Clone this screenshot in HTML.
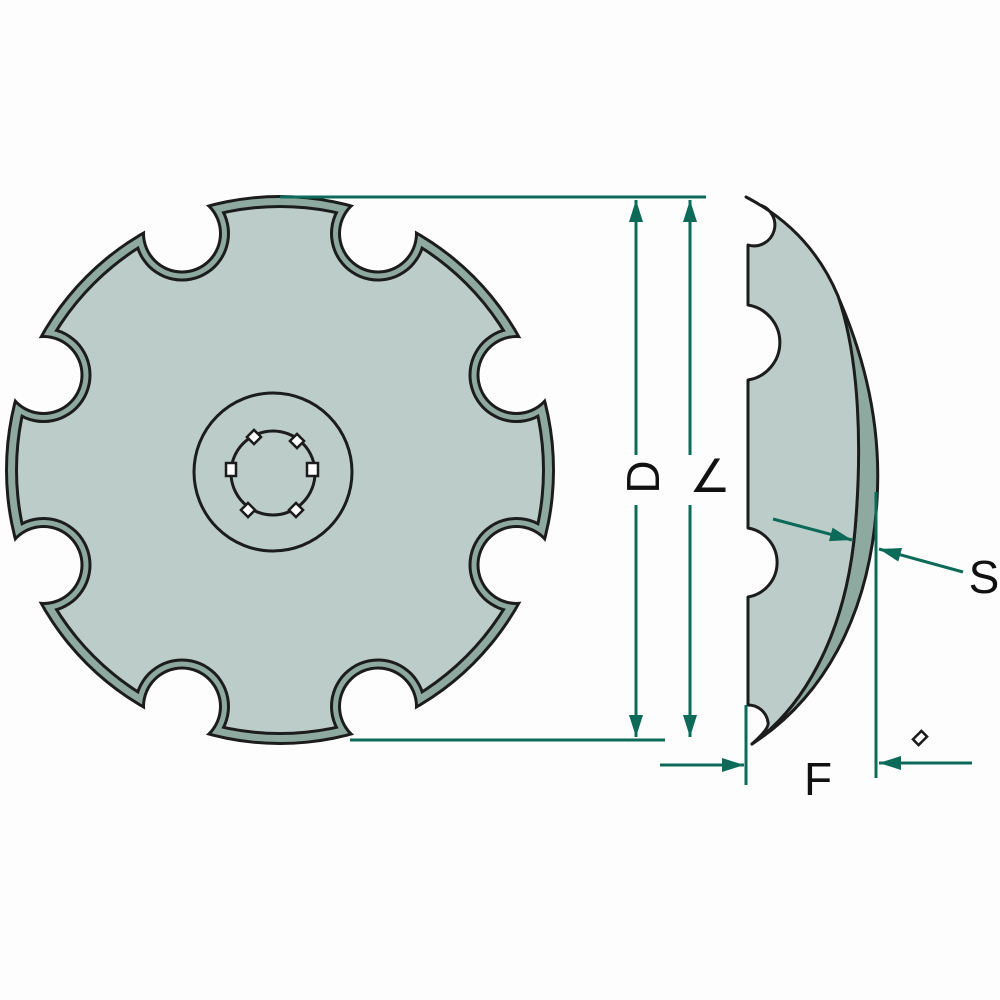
<!DOCTYPE html>
<html><head><meta charset="utf-8"><style>html,body{margin:0;padding:0;background:#fdfdfd}svg{display:block}</style></head>
<body>
<svg width="1000" height="1000" viewBox="0 0 1000 1000" xmlns="http://www.w3.org/2000/svg">
<defs>
<mask id="m1" maskUnits="userSpaceOnUse" x="0" y="0" width="1000" height="1000">
<rect width="1000" height="1000" fill="black"/>
<circle cx="280" cy="470" r="275" fill="white"/>
<g fill="black">
<circle cx="516.5" cy="375" r="37"/><circle cx="516.5" cy="565" r="37"/>
<circle cx="43.5" cy="375" r="37"/><circle cx="43.5" cy="565" r="37"/>
<circle cx="378" cy="233.5" r="37"/><circle cx="182" cy="233.5" r="37"/>
<circle cx="378" cy="706.5" r="37"/><circle cx="182" cy="706.5" r="37"/>
</g></mask>
<mask id="m2" maskUnits="userSpaceOnUse" x="0" y="0" width="1000" height="1000">
<rect width="1000" height="1000" fill="black"/>
<circle cx="280" cy="470" r="272" fill="white"/>
<g fill="black">
<circle cx="516.5" cy="375" r="40"/><circle cx="516.5" cy="565" r="40"/>
<circle cx="43.5" cy="375" r="40"/><circle cx="43.5" cy="565" r="40"/>
<circle cx="378" cy="233.5" r="40"/><circle cx="182" cy="233.5" r="40"/>
<circle cx="378" cy="706.5" r="40"/><circle cx="182" cy="706.5" r="40"/>
</g></mask>
<mask id="m3" maskUnits="userSpaceOnUse" x="0" y="0" width="1000" height="1000">
<rect width="1000" height="1000" fill="black"/>
<circle cx="280" cy="470" r="265" fill="white"/>
<g fill="black">
<circle cx="516.5" cy="375" r="45"/><circle cx="516.5" cy="565" r="45"/>
<circle cx="43.5" cy="375" r="45"/><circle cx="43.5" cy="565" r="45"/>
<circle cx="378" cy="233.5" r="45"/><circle cx="182" cy="233.5" r="45"/>
<circle cx="378" cy="706.5" r="45"/><circle cx="182" cy="706.5" r="45"/>
</g></mask>
<mask id="m4" maskUnits="userSpaceOnUse" x="0" y="0" width="1000" height="1000">
<rect width="1000" height="1000" fill="black"/>
<circle cx="280" cy="470" r="262" fill="white"/>
<g fill="black">
<circle cx="516.5" cy="375" r="48"/><circle cx="516.5" cy="565" r="48"/>
<circle cx="43.5" cy="375" r="48"/><circle cx="43.5" cy="565" r="48"/>
<circle cx="378" cy="233.5" r="48"/><circle cx="182" cy="233.5" r="48"/>
<circle cx="378" cy="706.5" r="48"/><circle cx="182" cy="706.5" r="48"/>
</g></mask>
<marker id="b" viewBox="0 0 10 10" refX="10" refY="5" markerWidth="22" markerHeight="14" markerUnits="userSpaceOnUse" orient="auto-start-reverse" preserveAspectRatio="none">
<path d="M0,0 L10,5 L0,10 z" fill="#0b6b58"/></marker>
</defs>

<!-- disc -->
<rect width="1000" height="1000" fill="#1c1c1c" mask="url(#m1)"/>
<rect width="1000" height="1000" fill="#8ea99f" mask="url(#m2)"/>
<rect width="1000" height="1000" fill="#1c1c1c" mask="url(#m3)"/>
<rect width="1000" height="1000" fill="#bccdc9" mask="url(#m4)"/>

<!-- hub -->
<circle cx="273" cy="472" r="79" fill="none" stroke="#1c1c1c" stroke-width="3"/>
<circle cx="273" cy="473" r="42" fill="none" stroke="#1c1c1c" stroke-width="3"/>
<g fill="#fff" stroke="#1c1c1c" stroke-width="2.5">
<rect x="226" y="463" width="10" height="13"/>
<rect x="307" y="463" width="11" height="13"/>
<rect x="-5" y="-5" width="10" height="10" transform="translate(254,437) rotate(45)"/>
<rect x="-5" y="-5" width="10" height="10" transform="translate(297,441) rotate(45)"/>
<rect x="-5" y="-5" width="10" height="10" transform="translate(248,510) rotate(45)"/>
<rect x="-5" y="-5" width="10" height="10" transform="translate(296,510) rotate(45)"/>
</g>

<!-- side view -->
<path d="M836,292 C862,350 882,420 877,500 C870,620 820,700 752,744 C800,710 845,640 855,530 C862,450 858,360 836,292 Z" fill="#8ea99f" stroke="#1c1c1c" stroke-width="3" stroke-linejoin="round"/>
<path d="M746,197 C800,225 825,265 838,296 C860,360 862,450 855,530 C845,640 800,710 752,744 Q770,728 768,722 A20,20 0 0 0 748,705 L748,597 A35,35 0 0 0 748,528 L748,380 A38,38 0 0 0 748,305 L748,245 A20,20 0 0 0 760,205 Q752,200 746,197 Z" fill="#bccdc9" stroke="#1c1c1c" stroke-width="3" stroke-linejoin="round"/>

<!-- dimensions -->
<g stroke="#0b6b58" stroke-width="3" fill="none">
<line x1="280" y1="197" x2="706" y2="197"/>
<line x1="350" y1="740" x2="665" y2="740"/>
<line x1="636" y1="200" x2="636" y2="455" marker-start="url(#b)"/>
<line x1="636" y1="505" x2="636" y2="737" marker-end="url(#b)"/>
<line x1="690" y1="200" x2="690" y2="455" marker-start="url(#b)"/>
<line x1="690" y1="505" x2="690" y2="737" marker-end="url(#b)"/>
<line x1="746" y1="705" x2="746" y2="785"/>
<line x1="876" y1="492" x2="876" y2="778"/>
<line x1="660" y1="765" x2="744" y2="765" marker-end="url(#b)"/>
<line x1="972" y1="763" x2="879" y2="763" marker-end="url(#b)"/>
<line x1="773" y1="519" x2="852" y2="540" marker-end="url(#b)"/>
<line x1="963" y1="572" x2="879" y2="549" marker-end="url(#b)"/>
</g>
<rect x="-4" y="-6" width="8" height="12" fill="#fff" stroke="#1c1c1c" stroke-width="2.5" transform="translate(920,738) rotate(45)"/>

<g font-family="Liberation Sans, sans-serif" fill="#111">
<text x="0" y="0" font-size="46" text-anchor="middle" transform="translate(659,477) rotate(-90)">D</text>
<text x="0" y="0" font-size="46" text-anchor="middle" transform="translate(710,492)">∠</text>
<text x="984" y="593" font-size="46" text-anchor="middle">S</text>
<text x="818" y="795" font-size="46" text-anchor="middle">F</text>
</g>
</svg>
</body></html>
